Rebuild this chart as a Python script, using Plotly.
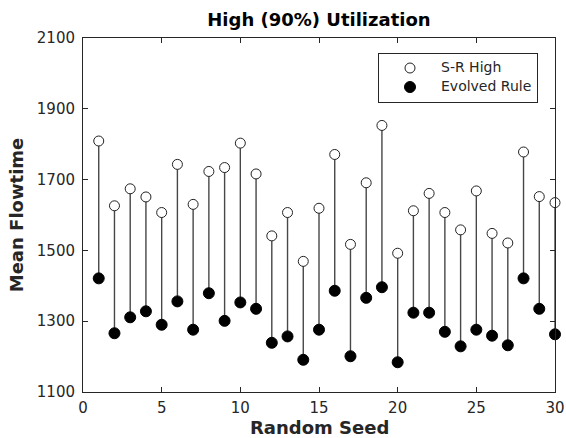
import plotly.graph_objects as go

seeds = list(range(1, 31))
sr_high = [1809, 1626, 1674, 1651, 1607, 1743, 1630, 1723, 1734, 1803,
           1716, 1541, 1607, 1469, 1619, 1771, 1517, 1691, 1853, 1492,
           1612, 1661, 1607, 1558, 1668, 1548, 1521, 1778, 1652, 1635]
evolved = [1421, 1266, 1311, 1328, 1290, 1356, 1276, 1379, 1301, 1353,
           1335, 1239, 1257, 1191, 1276, 1386, 1201, 1366, 1396, 1184,
           1324, 1324, 1270, 1229, 1276, 1259, 1232, 1421, 1335, 1263]
x_ticks = [0, 5, 10, 15, 20, 25, 30]
y_ticks = [1100, 1300, 1500, 1700, 1900, 2100]
legend_names = ["S-R High", "Evolved Rule"]

FONT = "DejaVu Sans"
AX = "#262626"
H = 438
MT, MB = 38, 45.5
PLOT_H = H - MT - MB

stem_x, stem_y = [], []
for s, a, b in zip(seeds, evolved, sr_high):
    stem_x += [s, s, None]
    stem_y += [a, b, None]

def lg(name):
    return '<span style="font-size:14px">' + name + '</span>'

fig = go.Figure()
fig.add_trace(go.Scatter(x=stem_x, y=stem_y, mode="lines",
                         line=dict(color="#474747", width=1.4),
                         showlegend=False, hoverinfo="skip", cliponaxis=False))
fig.add_trace(go.Scatter(x=seeds, y=sr_high, mode="markers", name=lg(legend_names[0]),
                         marker=dict(symbol="circle", size=10, color="white",
                                     line=dict(color="#222222", width=1)),
                         cliponaxis=False))
fig.add_trace(go.Scatter(x=seeds, y=evolved, mode="markers",
                         name=lg(legend_names[1]),
                         marker=dict(symbol="circle", size=11, color="black",
                                     line=dict(color="black", width=1)),
                         cliponaxis=False))

axis_common = dict(showline=True, linecolor=AX, linewidth=1, mirror="ticks",
                   ticks="inside", ticklen=5, tickwidth=1, tickcolor=AX,
                   showgrid=False, zeroline=False, automargin=False,
                   tickfont=dict(family=FONT, size=15, color=AX))

fig.update_layout(
    width=566, height=H,
    margin=dict(l=83, r=11, t=MT, b=MB, pad=0, autoexpand=False),
    paper_bgcolor="white", plot_bgcolor="white",
    title=dict(text="High (90%) Utilization", x=0.5635, xanchor="center",
               y=1 - 20 / H, yanchor="middle",
               font=dict(family=FONT, size=18, color="black", weight="bold")),
    xaxis=dict(range=[0, 30], tickvals=x_ticks, ticktext=[str(v) for v in x_ticks],
               ticklabelstandoff=2, **axis_common),
    yaxis=dict(range=[1100, 2100], tickvals=y_ticks, ticktext=[str(v) for v in y_ticks],
               title=dict(text="Mean Flowtime", standoff=8,
                          font=dict(family=FONT, size=18, color=AX, weight="bold")),
               ticklabelstandoff=4, **axis_common),
    legend=dict(x=0.625, y=0.959, xanchor="left", yanchor="top",
                bgcolor="white", bordercolor=AX, borderwidth=1,
                itemwidth=52, tracegroupgap=0,
                font=dict(family=FONT, size=11, color=AX)),
    annotations=[dict(text="Random Seed", xref="paper", yref="paper",
                      x=0.5, y=-(428 - (H - MB)) / PLOT_H,
                      xanchor="center", yanchor="middle", showarrow=False,
                      font=dict(family=FONT, size=18, color=AX, weight="bold"))],
)

fig.write_html("out.html", config={"displayModeBar": False},
               post_script="document.body.style.margin='0px';")
